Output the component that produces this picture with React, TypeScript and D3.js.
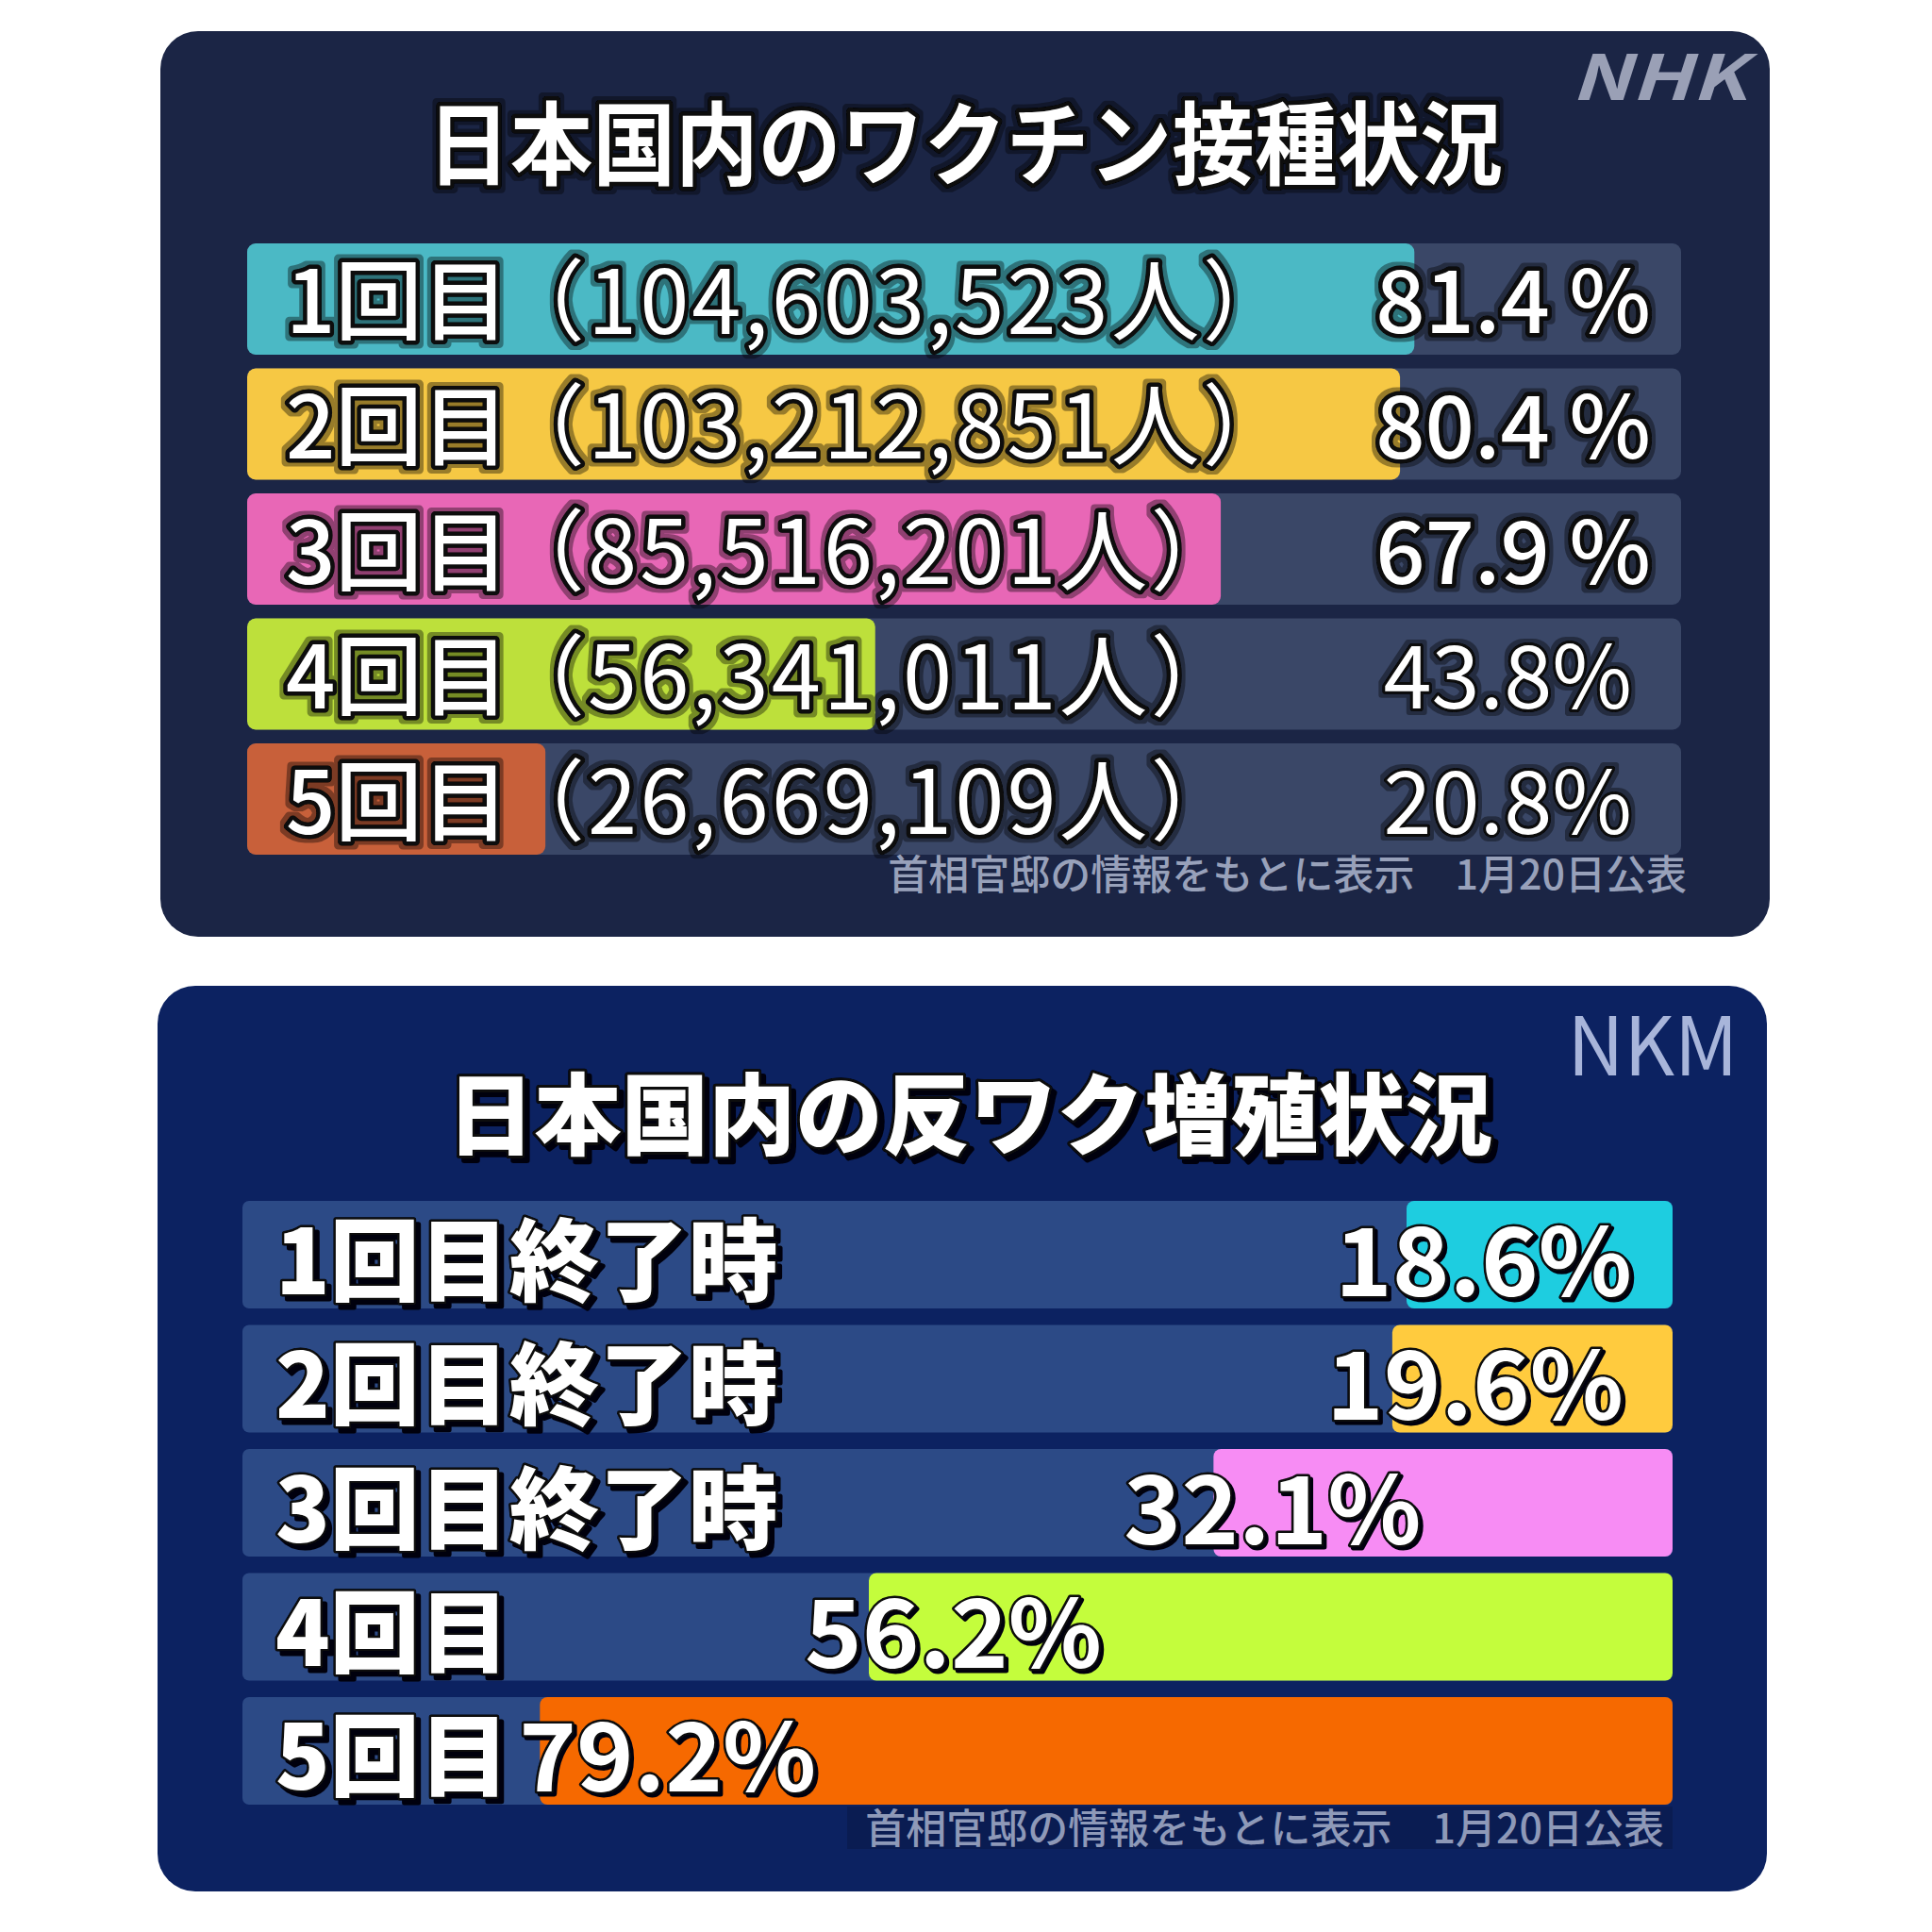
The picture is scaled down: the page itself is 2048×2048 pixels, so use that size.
import React from 'react';
import * as d3 from 'd3';

// ---------- data ----------
const vaxTitle = '日本国内のワクチン接種状況';
const vaxRounds = ['1回目', '2回目', '3回目', '4回目', '5回目'];
const vaxCounts = [104603523, 103212851, 85516201, 56341011, 26669109];
const vaxRates = [81.4, 80.4, 67.9, 43.8, 20.8];
const vaxColors = ['#4bb9c5', '#f6c844', '#e867b6', '#bde03b', '#c8603a'];

const antiTitle = '日本国内の反ワク増殖状況';
const antiRounds = ['1回目終了時', '2回目終了時', '3回目終了時', '4回目', '5回目'];
const antiRates = [18.6, 19.6, 32.1, 56.2, 79.2];
const antiColors = ['#1ecde0', '#ffcb3e', '#f78cf4', '#c4fd3c', '#f66900'];

const sourceNote = '首相官邸の情報をもとに表示　1月20日公表';
const logoTop = 'NHK';
const logoBottom = 'NKM';

// ---------- layout ----------
const FONT = '"Noto Sans CJK JP", "Noto Sans", sans-serif';
const barX0 = 262;
const barX1 = 1782;
const barX0b = 257;
const barX1b = 1773;
// percent label placement in the bottom chart (px, relative to bar end / fill start)
const antiLabelMode = ['end', 'end', 'start', 'start', 'start'];
const antiLabelShift = [-43, -52, -95, -68, -22];

function Outlined({ x, y, text, size, weight = 700, anchor = 'start', stroke = 8, filter, fill = '#fff', len, spacing }: any) {
  const extra: any = {};
  if (len) {
    extra.textLength = len;
    extra.lengthAdjust = 'spacingAndGlyphs';
  }
  if (spacing) extra.letterSpacing = spacing;
  return (
    <text
      x={x}
      y={y}
      fontFamily={FONT}
      fontSize={size}
      fontWeight={weight}
      textAnchor={anchor}
      dominantBaseline="central"
      strokeLinejoin="round"
      fill={fill}
      stroke="#080808"
      strokeWidth={stroke}
      paintOrder="stroke"
      filter={filter}
      {...extra}
    >
      {text}
    </text>
  );
}

function Defs() {
  return (
    <defs>
      <filter id="halo" x="-10%" y="-30%" width="120%" height="160%">
        <feMorphology in="SourceAlpha" operator="dilate" radius="4" result="d" />
        <feFlood floodColor="#000" floodOpacity="0.38" />
        <feComposite in2="d" operator="in" result="h" />
        <feMerge>
          <feMergeNode in="h" />
          <feMergeNode in="SourceGraphic" />
        </feMerge>
      </filter>
      <filter id="shadow" x="-10%" y="-30%" width="120%" height="160%">
        <feDropShadow dx="5" dy="5" stdDeviation="0" floodColor="#04060e" floodOpacity="1" />
      </filter>
      <filter id="shadowSm" x="-10%" y="-30%" width="120%" height="160%">
        <feDropShadow dx="3" dy="3" stdDeviation="0" floodColor="#04060e" floodOpacity="1" />
      </filter>
    </defs>
  );
}

function TopChart() {
  const y = d3.scaleBand<string>().domain(vaxRounds).range([258, 906]).paddingInner(0.11);
  const x = d3.scaleLinear().domain([0, 100]).range([barX0, barX1]);
  const fmt = d3.format(',');
  return (
    <g>
      <rect x={170} y={33} width={1706} height={960} rx={40} fill="#1b2545" />
      <text
        x={1758}
        y={77}
        fontFamily={FONT}
        fontSize={66}
        fontWeight={700}
        fontStyle="italic"
        fill="#9aa0b6"
        textAnchor="middle"
        dominantBaseline="central"
        textLength={186}
        lengthAdjust="spacingAndGlyphs"
      >
        {logoTop}
      </text>
      <Outlined x={1023} y={146} text={vaxTitle} size={96} anchor="middle" stroke={9} filter="url(#halo)" len={1140} />
      {vaxRounds.map((r, i) => {
        const by = y(r)!;
        const bh = y.bandwidth();
        const cy = by + bh / 2 - 4;
        const pct = i < 3 ? `${vaxRates[i].toFixed(1)} %` : `${vaxRates[i].toFixed(1)}%`;
        return (
          <g key={r}>
            <rect x={x(0)} y={by} width={x(100) - x(0)} height={bh} rx={9} fill="#3a4767" />
            <rect x={x(0)} y={by} width={x(vaxRates[i]) - x(0)} height={bh} rx={9} fill={vaxColors[i]} />
            <Outlined x={303} y={cy} text={r} size={92} weight={500} stroke={9} filter="url(#halo)" />
            <Outlined
              x={526}
              y={cy}
              text={`（${fmt(vaxCounts[i])}人）`}
              size={94}
              weight={400}
              stroke={9}
              spacing={3}
              filter="url(#halo)"
            />
            <Outlined
              x={i < 3 ? 1750 : 1730}
              y={cy}
              text={pct}
              size={92}
              weight={i < 3 ? 500 : 400}
              anchor="end"
              stroke={i < 3 ? 9 : 6}
              filter="url(#halo)"
            />
          </g>
        );
      })}
      <text
        x={1788}
        y={924}
        fontFamily={FONT}
        fontSize={43}
        fontWeight={500}
        fill="#98a1ba"
        textAnchor="end"
        dominantBaseline="central"
      >
        {sourceNote}
      </text>
    </g>
  );
}

function BottomChart() {
  const y = d3.scaleBand<string>().domain(antiRounds).range([1273, 1913]).paddingInner(0.133);
  const x = d3.scaleLinear().domain([0, 100]).range([barX1b, barX0b]);
  return (
    <g>
      <rect x={167} y={1045} width={1706} height={960} rx={40} fill="#0c2261" />
      <text
        x={1752}
        y={1102}
        fontFamily={FONT}
        fontSize={86}
        fontWeight={400}
        fill="#a8b5da"
        textAnchor="middle"
        dominantBaseline="central"
        textLength={181}
        lengthAdjust="spacingAndGlyphs"
      >
        {logoBottom}
      </text>
      <Outlined x={1028} y={1176} text={antiTitle} size={94} weight={900} anchor="middle" stroke={6} filter="url(#shadow)" len={1108} />
      {antiRounds.map((r, i) => {
        const by = y(r)!;
        const bh = y.bandwidth();
        const cy = by + bh / 2;
        const fillStart = x(antiRates[i]);
        const lx = antiLabelMode[i] === 'end' ? barX1b + antiLabelShift[i] : fillStart + antiLabelShift[i];
        return (
          <g key={r}>
            <rect x={barX0b} y={by} width={barX1b - barX0b} height={bh} rx={7} fill="#2c4a86" />
            <rect x={fillStart} y={by} width={barX1b - fillStart} height={bh} rx={8} fill={antiColors[i]} />
            <Outlined x={292} y={cy} text={r} size={95} weight={900} stroke={5} filter="url(#shadow)" />
            <Outlined
              x={lx}
              y={cy}
              text={`${antiRates[i].toFixed(1)}%`}
              size={100}
              weight={700}
              anchor={antiLabelMode[i]}
              stroke={5}
              filter="url(#shadowSm)"
              len={315}
            />
          </g>
        );
      })}
      <rect x={898} y={1915} width={875} height={45} fill="#0a1c52" />
      <text
        x={1764}
        y={1935}
        fontFamily={FONT}
        fontSize={43}
        fontWeight={500}
        fill="#8e99b8"
        textAnchor="end"
        dominantBaseline="central"
      >
        {sourceNote}
      </text>
    </g>
  );
}

export default function App() {
  return (
    <svg
      width={2048}
      height={2048}
      viewBox="0 0 2048 2048"
      style={{ position: 'absolute', left: 0, top: 0, display: 'block' }}
    >
      <Defs />
      <rect x={0} y={0} width={2048} height={2048} fill="#ffffff" />
      <TopChart />
      <BottomChart />
    </svg>
  );
}
